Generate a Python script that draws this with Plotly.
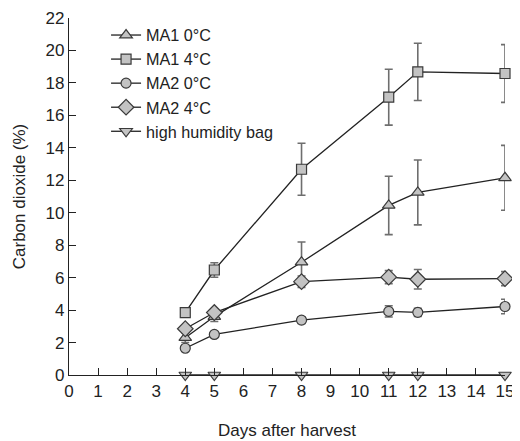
import plotly.graph_objects as go

days = [4, 5, 8, 11, 12, 15]

ma1_0 = [2.3, 3.6, 6.95, 10.45, 11.25, 12.15]
ma1_0_err = [0.3, 0.3, 1.25, 1.8, 2.0, 2.0]
ma1_4 = [3.84, 6.47, 12.68, 17.12, 18.68, 18.58]
ma1_4_err = [0.2, 0.45, 1.6, 1.72, 1.76, 1.78]
ma2_0 = [1.65, 2.5, 3.38, 3.92, 3.86, 4.22]
ma2_0_err = [0.15, 0.15, 0.2, 0.35, 0.25, 0.45]
ma2_4 = [2.85, 3.85, 5.75, 6.03, 5.9, 5.94]
ma2_4_err = [0.15, 0.2, 0.35, 0.4, 0.6, 0.43]
hh = [0, 0, 0, 0, 0, 0]

x_ticks = list(range(0, 16))
y_ticks = list(range(0, 23, 2))

fill = "#c3c3c3"
edge = "#3a3a3a"
errc = "#6e6e6e"

series = [
    ("MA1 0°C", ma1_0, ma1_0_err, "triangle-up", 11),
    ("MA1 4°C", ma1_4, ma1_4_err, "square", 10),
    ("MA2 0°C", ma2_0, ma2_0_err, "circle", 10),
    ("MA2 4°C", ma2_4, ma2_4_err, "diamond", 12),
    ("high humidity bag", hh, None, "triangle-down", 11),
]

fig = go.Figure()
for name, vals, err, sym, sz in series:
    fig.add_trace(go.Scatter(
        x=days, y=vals, name=name, mode="lines+markers",
        line=dict(color="#222222", width=1.3),
        marker=dict(symbol=sym, size=sz, color=fill, line=dict(color=edge, width=1.2)),
        error_y=(dict(type="data", array=err, visible=True, color=errc, thickness=1.6, width=4)
                 if err is not None else None),
        cliponaxis=False,
    ))

axis_common = dict(ticks="inside", ticklen=7, tickcolor="#222222", tickwidth=1.2,
                   showline=True, linecolor="#222222", linewidth=1.2,
                   showgrid=False, zeroline=False, automargin=False,
                   tickfont=dict(size=17))

# page body adds an 8px offset; the figure is sized to fill the rest of the window
fig.update_layout(
    width=512, height=433,
    margin=dict(l=61, r=15, t=10, b=66),
    paper_bgcolor="white", plot_bgcolor="white",
    font=dict(family="Liberation Sans, Arial, sans-serif", color="#222222", size=17),
    showlegend=True,
    legend=dict(x=0.085, y=1.0, xanchor="left", yanchor="top",
                bgcolor="rgba(0,0,0,0)", font=dict(size=16.2), itemwidth=30,
                tracegroupgap=0),
    xaxis=dict(range=[0, 15], tickvals=x_ticks,
               title=dict(text="Days after harvest", font=dict(size=17), standoff=24),
               **axis_common),
    yaxis=dict(range=[0, 22], tickvals=y_ticks,
               title=dict(text="Carbon dioxide (%)", font=dict(size=17)),
               **axis_common),
)

fig.write_html("out.html")
